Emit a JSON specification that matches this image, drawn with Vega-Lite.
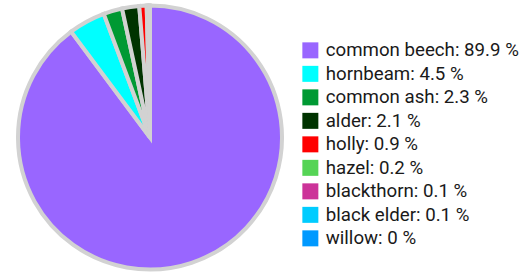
{
  "$schema": "https://vega.github.io/schema/vega-lite/v6.json",
  "width": 300,
  "height": 275,
  "padding": {"left": 0, "top": 0, "right": 229, "bottom": 0},
  "autosize": {"type": "none"},
  "background": "white",
  "data": {"values": [
    {"idx": 1, "tree": "common beech", "pct": 89.9},
    {"idx": 2, "tree": "hornbeam", "pct": 4.5},
    {"idx": 3, "tree": "common ash", "pct": 2.3},
    {"idx": 4, "tree": "alder", "pct": 2.1},
    {"idx": 5, "tree": "holly", "pct": 0.9},
    {"idx": 6, "tree": "hazel", "pct": 0.2},
    {"idx": 7, "tree": "blackthorn", "pct": 0.1},
    {"idx": 8, "tree": "black elder", "pct": 0.1},
    {"idx": 9, "tree": "willow", "pct": 0}
  ]},
  "transform": [{"calculate": "datum.tree + ': ' + datum.pct + ' %'", "as": "label"}],
  "mark": {"type": "arc", "radius": 132, "stroke": "#d2d2d2", "strokeWidth": 4},
  "encoding": {
    "theta": {"field": "pct", "type": "quantitative", "stack": true},
    "order": {"field": "idx", "type": "quantitative", "sort": "ascending"},
    "color": {
      "field": "label",
      "type": "nominal",
      "sort": {"field": "idx"},
      "scale": {
        "domain": ["common beech: 89.9 %", "hornbeam: 4.5 %", "common ash: 2.3 %", "alder: 2.1 %", "holly: 0.9 %", "hazel: 0.2 %", "blackthorn: 0.1 %", "black elder: 0.1 %", "willow: 0 %"],
        "range": ["#9966ff", "#00ffff", "#009933", "#003300", "#ff0000", "#55d455", "#cc3399", "#00ccff", "#0099ff"]
      },
      "legend": {
        "title": null,
        "orient": "none",
        "legendX": 301,
        "legendY": 41,
        "symbolType": "square",
        "symbolSize": 256,
        "symbolStrokeWidth": 0,
        "symbolOpacity": 1,
        "labelFont": "Roboto",
        "labelFontSize": 18.7,
        "labelColor": "#1a1a1a",
        "labelOffset": 6,
        "labelLimit": 300,
        "rowPadding": 3.5,
        "padding": 0
      }
    }
  },
  "config": {"view": {"stroke": null}}
}
